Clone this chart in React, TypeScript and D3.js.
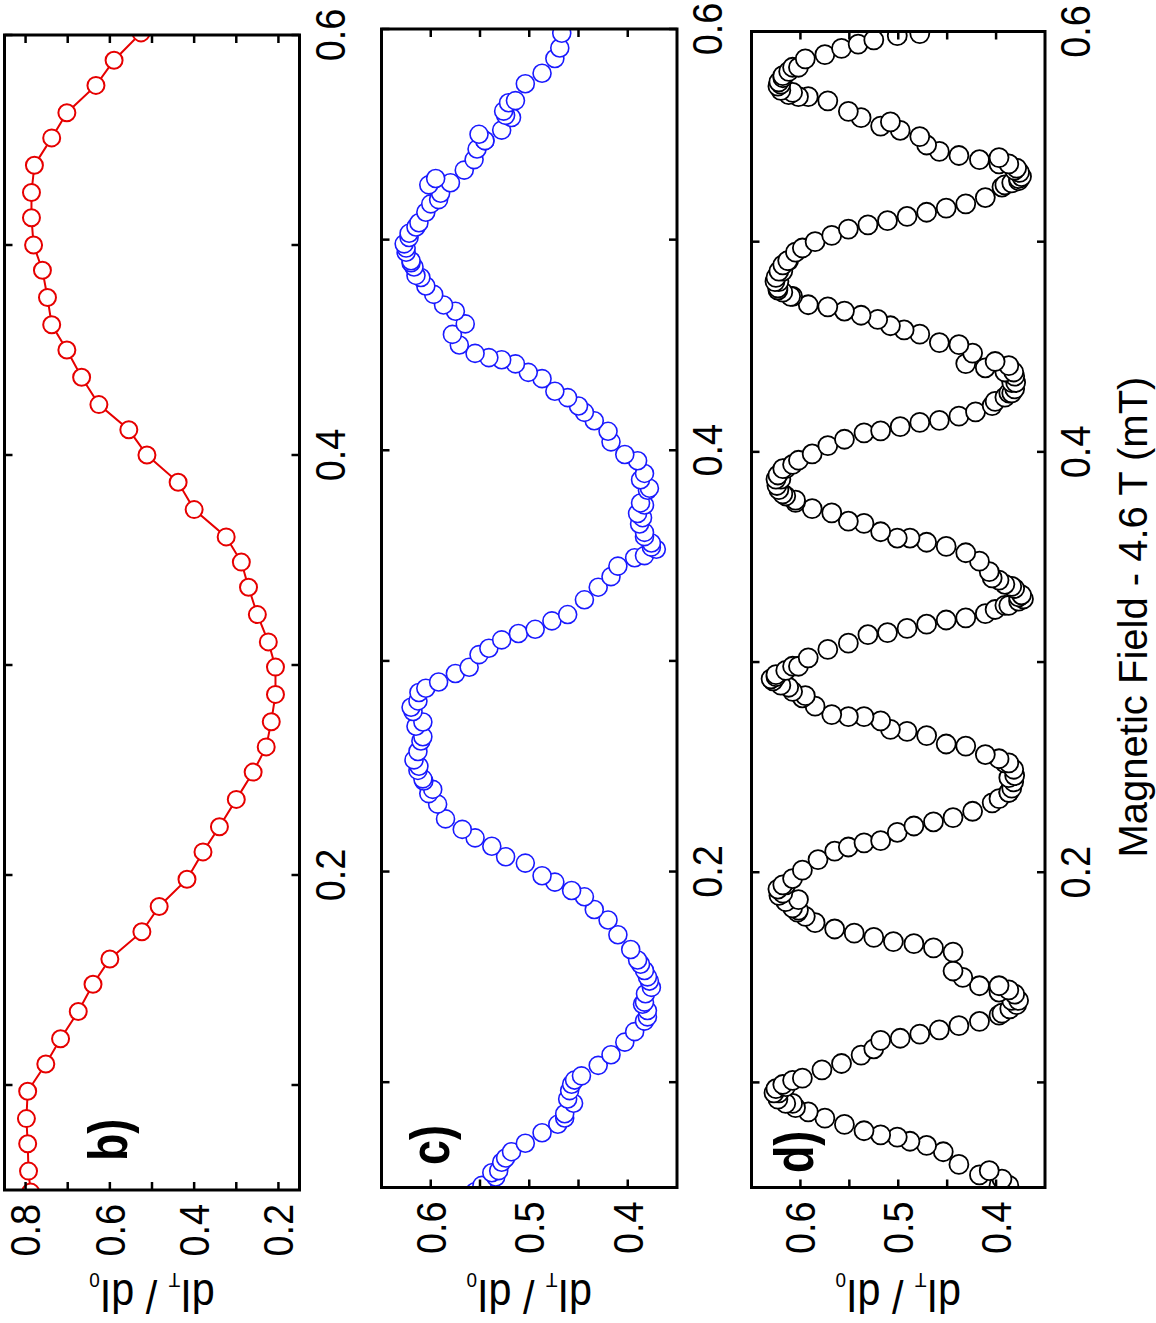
import React from "react";
import * as d3 from "d3";

// figure is drawn upright, then turned 90deg counter-clockwise as in the source
const W = 1156;
const H = 1323;

// panel b: field (mT) and dI/dI0
const fieldB = [
  0.049, 0.059, 0.072, 0.084, 0.097, 0.11, 0.122, 0.135, 0.148, 0.16, 0.173,
  0.185, 0.198, 0.211, 0.223, 0.236, 0.249, 0.261, 0.273, 0.286, 0.299, 0.311,
  0.324, 0.337, 0.349, 0.361, 0.374, 0.387, 0.4, 0.412, 0.424, 0.437, 0.45,
  0.462, 0.475, 0.488, 0.5, 0.513, 0.525, 0.538, 0.551, 0.563, 0.576, 0.588,
  0.601,
];
const valueB = [
  0.788, 0.793, 0.795, 0.798, 0.795, 0.752, 0.717, 0.675, 0.64, 0.6, 0.524,
  0.483, 0.417, 0.379, 0.34, 0.3, 0.26, 0.229, 0.217, 0.207, 0.207, 0.224,
  0.25, 0.271, 0.288, 0.324, 0.4, 0.438, 0.512, 0.555, 0.626, 0.667, 0.702,
  0.738, 0.748, 0.76, 0.781, 0.786, 0.786, 0.779, 0.738, 0.702, 0.633, 0.59,
  0.526,
];

// panel c: [field, dI/dI0] along the trace
const seriesC: [number, number][] = [
  [0.048, 0.555], [0.051, 0.548], [0.057, 0.538], [0.062, 0.528], [0.067, 0.518],
  [0.071, 0.504], [0.076, 0.487], [0.08, 0.471], [0.085, 0.464], [0.092, 0.461],
  [0.099, 0.457], [0.103, 0.447], [0.108, 0.43], [0.113, 0.417], [0.119, 0.403],
  [0.124, 0.393], [0.131, 0.38], [0.138, 0.383], [0.145, 0.376], [0.15, 0.38],
  [0.156, 0.387], [0.163, 0.397], [0.17, 0.41], [0.177, 0.42], [0.182, 0.434],
  [0.188, 0.444], [0.191, 0.457], [0.195, 0.474], [0.198, 0.487], [0.204, 0.504],
  [0.207, 0.524], [0.212, 0.538], [0.216, 0.555], [0.22, 0.568], [0.225, 0.585],
  [0.232, 0.593], [0.239, 0.598], [0.244, 0.608], [0.25, 0.612], [0.257, 0.613],
  [0.264, 0.608], [0.271, 0.608], [0.276, 0.618], [0.281, 0.613], [0.287, 0.605],
  [0.29, 0.592], [0.294, 0.575], [0.297, 0.561], [0.303, 0.551], [0.306, 0.541],
  [0.31, 0.528], [0.313, 0.511], [0.315, 0.494], [0.319, 0.477], [0.322, 0.461],
  [0.329, 0.444], [0.335, 0.43], [0.34, 0.417], [0.345, 0.41], [0.349, 0.393],
  [0.354, 0.376], [0.361, 0.383], [0.368, 0.385], [0.375, 0.387], [0.382, 0.378],
  [0.389, 0.383], [0.395, 0.39], [0.398, 0.403], [0.404, 0.417], [0.409, 0.42],
  [0.414, 0.434], [0.418, 0.444], [0.421, 0.45], [0.425, 0.461], [0.428, 0.474],
  [0.434, 0.487], [0.437, 0.501], [0.441, 0.514], [0.443, 0.528], [0.444, 0.541],
  [0.446, 0.555], [0.45, 0.571], [0.455, 0.578], [0.46, 0.565], [0.466, 0.575],
  [0.469, 0.587], [0.474, 0.597], [0.478, 0.605], [0.483, 0.615], [0.489, 0.62],
  [0.496, 0.625], [0.501, 0.622], [0.508, 0.612], [0.513, 0.605], [0.517, 0.6],
  [0.522, 0.59], [0.527, 0.58], [0.533, 0.566], [0.538, 0.556], [0.543, 0.553],
  [0.547, 0.545], [0.552, 0.528], [0.559, 0.524], [0.566, 0.514], [0.574, 0.504],
  [0.579, 0.487], [0.586, 0.474], [0.591, 0.469], [0.598, 0.467],
];

// panel c: extra readings where the markers pile up
const clustersC: [number, number][] = [
  [0.386, 0.387], [0.381, 0.38], [0.374, 0.383], [0.37, 0.39], [0.365, 0.388],
  [0.359, 0.383], [0.356, 0.376], [0.353, 0.371], [0.35, 0.383],
  [0.158, 0.39], [0.153, 0.383], [0.148, 0.378], [0.142, 0.382], [0.137, 0.385],
  [0.134, 0.38], [0.129, 0.383],
  [0.506, 0.615], [0.503, 0.622], [0.498, 0.627], [0.494, 0.625], [0.49, 0.62],
  [0.487, 0.617], [0.482, 0.61],
  [0.285, 0.612], [0.278, 0.62], [0.269, 0.615], [0.262, 0.61], [0.253, 0.617],
  [0.248, 0.613], [0.243, 0.607], [0.237, 0.602],
  [0.565, 0.521], [0.561, 0.526], [0.558, 0.518], [0.55, 0.551], [0.547, 0.545],
  [0.529, 0.595], [0.526, 0.602], [0.519, 0.592],
  [0.101, 0.454], [0.096, 0.459], [0.09, 0.455], [0.083, 0.464],
  [0.064, 0.524], [0.058, 0.531], [0.055, 0.534],
];

// panel d: [field, dI/dI0] along the trace
const seriesD: [number, number][] = [
  [0.051, 0.397], [0.056, 0.417], [0.061, 0.438], [0.067, 0.454], [0.07, 0.471],
  [0.072, 0.488], [0.074, 0.501], [0.075, 0.518], [0.077, 0.535], [0.08, 0.555],
  [0.083, 0.575], [0.086, 0.592], [0.09, 0.608], [0.095, 0.622], [0.098, 0.615],
  [0.102, 0.598], [0.106, 0.578], [0.109, 0.558], [0.113, 0.538], [0.116, 0.525],
  [0.12, 0.518], [0.121, 0.498], [0.123, 0.478], [0.125, 0.458], [0.127, 0.438],
  [0.129, 0.417], [0.132, 0.397], [0.139, 0.384], [0.143, 0.397], [0.146, 0.417],
  [0.15, 0.434], [0.153, 0.444], [0.162, 0.444], [0.164, 0.464], [0.166, 0.484],
  [0.167, 0.505], [0.169, 0.525], [0.171, 0.545], [0.173, 0.565], [0.176, 0.585],
  [0.182, 0.602], [0.187, 0.602], [0.19, 0.618], [0.194, 0.615], [0.201, 0.598],
  [0.206, 0.582], [0.21, 0.565], [0.212, 0.551], [0.214, 0.535], [0.215, 0.518],
  [0.219, 0.501], [0.222, 0.484], [0.224, 0.464], [0.226, 0.444], [0.229, 0.424],
  [0.233, 0.404], [0.238, 0.387], [0.245, 0.387], [0.252, 0.391], [0.256, 0.411],
  [0.26, 0.431], [0.261, 0.451], [0.265, 0.471], [0.267, 0.491], [0.268, 0.508],
  [0.272, 0.518], [0.274, 0.535], [0.274, 0.551], [0.275, 0.568], [0.279, 0.585],
  [0.283, 0.598], [0.288, 0.612], [0.293, 0.625], [0.298, 0.608], [0.302, 0.592],
  [0.306, 0.572], [0.309, 0.551], [0.313, 0.531], [0.314, 0.511], [0.316, 0.491],
  [0.318, 0.471], [0.32, 0.451], [0.321, 0.431], [0.323, 0.411], [0.327, 0.391],
  [0.331, 0.377], [0.336, 0.384], [0.339, 0.397], [0.343, 0.407], [0.348, 0.417],
  [0.352, 0.431], [0.355, 0.451], [0.357, 0.471], [0.359, 0.488], [0.359, 0.501],
  [0.362, 0.518], [0.366, 0.535], [0.367, 0.551], [0.371, 0.568], [0.373, 0.588],
  [0.376, 0.605], [0.38, 0.618], [0.387, 0.62], [0.392, 0.615], [0.396, 0.602],
  [0.399, 0.588], [0.403, 0.572], [0.406, 0.555], [0.409, 0.535], [0.41, 0.518],
  [0.412, 0.498], [0.414, 0.478], [0.415, 0.458], [0.417, 0.438], [0.419, 0.421],
  [0.422, 0.404], [0.428, 0.387], [0.433, 0.384], [0.438, 0.391], [0.44, 0.411],
  [0.442, 0.431], [0.447, 0.424], [0.451, 0.438], [0.452, 0.458], [0.456, 0.478],
  [0.458, 0.494], [0.46, 0.508], [0.463, 0.521], [0.465, 0.538], [0.467, 0.555],
  [0.469, 0.572], [0.47, 0.592], [0.474, 0.608], [0.477, 0.623], [0.481, 0.622],
  [0.486, 0.618], [0.491, 0.612], [0.497, 0.598], [0.5, 0.585], [0.503, 0.568],
  [0.506, 0.551], [0.508, 0.531], [0.51, 0.511], [0.512, 0.491], [0.514, 0.471],
  [0.516, 0.451], [0.518, 0.431], [0.521, 0.411], [0.527, 0.391], [0.53, 0.377],
  [0.534, 0.381], [0.537, 0.397], [0.539, 0.417], [0.541, 0.438], [0.543, 0.458],
  [0.546, 0.471], [0.55, 0.478], [0.553, 0.498], [0.555, 0.518], [0.557, 0.508],
  [0.559, 0.538], [0.562, 0.551], [0.567, 0.572], [0.569, 0.592], [0.571, 0.608],
  [0.575, 0.62], [0.578, 0.618], [0.583, 0.608], [0.587, 0.595], [0.589, 0.575],
  [0.592, 0.558], [0.594, 0.541], [0.596, 0.525], [0.598, 0.501], [0.599, 0.478],
];

// panel d: extra readings at the turning points, where the markers pile up
const clustersD: [number, number][] = [
  [0.583, 0.602], [0.581, 0.612], [0.579, 0.618], [0.576, 0.622], [0.574, 0.623],
  [0.572, 0.62], [0.57, 0.612], [0.569, 0.602],
  [0.54, 0.397], [0.537, 0.387], [0.535, 0.379], [0.533, 0.376], [0.531, 0.374],
  [0.529, 0.377], [0.528, 0.384], [0.526, 0.394],
  [0.495, 0.605], [0.491, 0.613], [0.489, 0.618], [0.486, 0.622], [0.483, 0.625],
  [0.481, 0.626], [0.478, 0.623], [0.476, 0.618], [0.474, 0.61],
  [0.443, 0.401], [0.441, 0.387], [0.438, 0.382], [0.436, 0.381], [0.433, 0.38],
  [0.43, 0.381], [0.428, 0.384], [0.426, 0.391], [0.424, 0.401],
  [0.394, 0.608], [0.392, 0.618], [0.389, 0.623], [0.387, 0.625], [0.384, 0.624],
  [0.382, 0.622], [0.379, 0.615], [0.377, 0.605],
  [0.34, 0.404], [0.337, 0.391], [0.335, 0.381], [0.332, 0.374], [0.33, 0.372],
  [0.329, 0.377], [0.327, 0.387], [0.325, 0.401],
  [0.298, 0.602], [0.296, 0.615], [0.294, 0.625], [0.292, 0.63], [0.291, 0.628],
  [0.289, 0.62], [0.286, 0.608], [0.284, 0.595],
  [0.254, 0.397], [0.252, 0.387], [0.249, 0.382], [0.246, 0.381], [0.243, 0.382],
  [0.24, 0.384], [0.238, 0.387], [0.235, 0.397],
  [0.197, 0.608], [0.194, 0.618], [0.192, 0.623], [0.189, 0.622], [0.186, 0.615],
  [0.183, 0.608], [0.181, 0.603], [0.179, 0.595],
  [0.146, 0.397], [0.144, 0.387], [0.142, 0.381], [0.139, 0.377], [0.137, 0.379],
  [0.135, 0.386], [0.133, 0.394],
  [0.101, 0.608], [0.099, 0.618], [0.097, 0.625], [0.095, 0.627], [0.092, 0.623],
  [0.09, 0.615], [0.088, 0.605],
  [0.058, 0.407], [0.054, 0.394], [0.051, 0.387],
];

// axes
const fieldDomain = [0.05, 0.6];
const fieldTicks = [0.1, 0.2, 0.3, 0.4, 0.5, 0.6];
const fieldTickLabels = [0.2, 0.4, 0.6];
const ticksB = [0.2, 0.3, 0.4, 0.5, 0.6, 0.7, 0.8];
const tickLabelsB = [0.2, 0.4, 0.6, 0.8];
const ticksCD = [0.4, 0.45, 0.5, 0.55, 0.6];
const tickLabelsCD = [0.4, 0.5, 0.6];
const xTitle = "Magnetic Field - 4.6 T (mT)";
const panelTags = ["b)", "c)", "d)"];

const FONT = "'Liberation Sans', Arial, Helvetica, sans-serif";
const fmt = d3.format(".1f");

type Panel = {
  key: string;
  left: number;
  right: number;
  top: number;
  bottom: number;
  domain: [number, number];
  ticks: number[];
  labels: number[];
  points: [number, number][];
  color: string;
  r: number;
  sw: number;
  line: boolean;
  tag: string;
  tagX: number;
  tagY: number;
};

const panels: Panel[] = [
  {
    key: "b", left: 133, right: 1288, top: 4.5, bottom: 299.5,
    domain: [0.15, 0.85], ticks: ticksB, labels: tickLabelsB,
    points: fieldB.map((f, i) => [f, valueB[i]]),
    color: "#e60000", r: 8.5, sw: 2, line: true,
    tag: panelTags[0], tagX: 162, tagY: 127,
  },
  {
    key: "c", left: 135.5, right: 1294, top: 381.5, bottom: 677,
    domain: [0.35, 0.65], ticks: ticksCD, labels: tickLabelsCD,
    points: [...seriesC, ...clustersC].sort((a, b) => a[0] - b[0]),
    color: "#1a1aff", r: 9, sw: 1.6, line: false,
    tag: panelTags[1], tagX: 158, tagY: 449,
  },
  {
    key: "d", left: 135.5, right: 1291.5, top: 751.5, bottom: 1045,
    domain: [0.35, 0.65], ticks: ticksCD, labels: tickLabelsCD,
    points: [...seriesD, ...clustersD].sort((a, b) => a[0] - b[0]),
    color: "#000", r: 9.5, sw: 1.8, line: false,
    tag: panelTags[2], tagX: 150, tagY: 813,
  },
];

const TICK = 8;

function PanelView({ p }: { p: Panel }) {
  const x = d3.scaleLinear().domain(fieldDomain).range([p.left, p.right]);
  const y = d3.scaleLinear().domain(p.domain).range([p.bottom, p.top]);
  const path = d3
    .line<[number, number]>()
    .x((d) => x(d[0]))
    .y((d) => y(d[1]))(p.points);
  const cy = (p.top + p.bottom) / 2;

  return (
    <g>
      <defs>
        <clipPath id={`clip-${p.key}`}>
          <rect x={p.left} y={p.top} width={p.right - p.left} height={p.bottom - p.top} />
        </clipPath>
      </defs>
      <g clipPath={`url(#clip-${p.key})`}>
        {p.line && path && (
          <path d={path} fill="none" stroke={p.color} strokeWidth={2} />
        )}
        {p.points.map((d, i) => (
          <circle
            key={i}
            cx={x(d[0])}
            cy={y(d[1])}
            r={p.r}
            fill="#fff"
            stroke={p.color}
            strokeWidth={p.sw}
          />
        ))}
      </g>

      {/* ticks, inward on all sides */}
      <g stroke="#000" strokeWidth={2.5}>
        {fieldTicks.map((t) => (
          <g key={`f${t}`}>
            <line x1={x(t)} x2={x(t)} y1={p.bottom} y2={p.bottom - TICK} />
            <line x1={x(t)} x2={x(t)} y1={p.top} y2={p.top + TICK} />
          </g>
        ))}
        {p.ticks.map((t) => (
          <g key={`v${t}`}>
            <line x1={p.left} x2={p.left + TICK} y1={y(t)} y2={y(t)} />
            <line x1={p.right} x2={p.right - TICK} y1={y(t)} y2={y(t)} />
          </g>
        ))}
      </g>
      <rect
        x={p.left}
        y={p.top}
        width={p.right - p.left}
        height={p.bottom - p.top}
        fill="none"
        stroke="#000"
        strokeWidth={3}
      />

      <g fontFamily={FONT} fontSize={43} fill="#000">
        {fieldTickLabels.map((t) => (
          <text
            key={`fl${t}`}
            transform={`translate(${x(t)},${p.bottom + 45}) scale(0.88,1)`}
            textAnchor="middle"
          >
            {fmt(t)}
          </text>
        ))}
        {p.labels.map((t) => (
          <text
            key={`vl${t}`}
            transform={`translate(${p.left - 14},${y(t)}) scale(0.88,1)`}
            textAnchor="end"
            dominantBaseline="central"
          >
            {fmt(t)}
          </text>
        ))}
      </g>

      <text
        transform={`translate(43,${cy}) rotate(-90) scale(0.9,1)`}
        textAnchor="middle"
        fontFamily={FONT}
        fontSize={46}
      >
        dI
        <tspan dy={7} fontSize={21}>T</tspan>
        <tspan dy={-7}> / dI</tspan>
        <tspan dy={7} fontSize={21}>0</tspan>
      </text>

      <text
        transform={`translate(${p.tagX},${p.tagY}) scale(0.8,1)`}
        fontFamily={FONT}
        fontWeight="bold"
        fontSize={56}
      >
        {p.tag}
      </text>
    </g>
  );
}

export default function App() {
  return (
    <svg
      width={W}
      height={H}
      style={{ position: "absolute", left: 0, top: 0, background: "#fff" }}
    >
      <rect width={W} height={H} fill="#fff" />
      <g transform={`translate(0,${H}) rotate(-90)`}>
        {panels.map((p) => (
          <PanelView key={p.key} p={p} />
        ))}
        <text
          x={706}
          y={1147}
          textAnchor="middle"
          fontFamily={FONT}
          fontSize={40}
        >
          {xTitle}
        </text>
      </g>
    </svg>
  );
}
